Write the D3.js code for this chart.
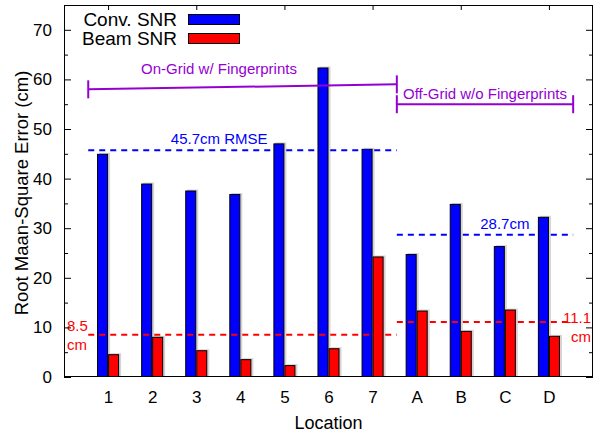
<!DOCTYPE html>
<html>
<head>
<meta charset="utf-8">
<script src="https://cdn.jsdelivr.net/npm/d3@7/dist/d3.min.js"></script>
<style>
  html, body { margin: 0; padding: 0; background: #fff; }
  svg { display: block; font-family: "Liberation Sans", Arial, Helvetica, sans-serif; }
</style>
</head>
<body>
<svg id="chart" width="608" height="435"></svg>
<script>
// Locations along the x axis
const categories = ["1", "2", "3", "4", "5", "6", "7", "A", "B", "C", "D"];
// RMSE per location (cm)
const convSNR = [45.0, 39.0, 37.6, 36.9, 47.1, 62.4, 46.0, 24.8, 34.9, 26.4, 32.3];
const beamSNR = [4.6, 8.1, 5.4, 3.6, 2.4, 5.8, 24.3, 13.4, 9.3, 13.6, 8.3];
const seriesNames = ["Conv. SNR", "Beam SNR"];
const yTicks = [0, 10, 20, 30, 40, 50, 60, 70];

// Average RMSE reference lines: value, x-span in location slots
const rmseValues = [45.7, 8.5, 28.7, 11.1];
const rmseFrom   = [0.55, 0.55, 7.55, 7.55];
const rmseTo     = [7.55, 7.55, 11.55, 11.55];

// Grouping brackets above the bars
const groupLabels = ["On-Grid w/ Fingerprints", "Off-Grid w/o Fingerprints"];
const groupFrom = [0.55, 7.55];
const groupTo   = [7.55, 11.55];
const groupYFrom = [58, 55];
const groupYTo   = [59, 55];

const W = 608, H = 435;
const margin = { left: 64, right: 15, top: 5, bottom: 58 };
const x0 = margin.left, x1 = W - margin.right;
const yTop = margin.top, yBot = H - margin.bottom;

const BLUE = "#0000ff", RED = "#ff0000", PURPLE = "#9400d3";

const svg = d3.select("#chart");

// location slots 0..12, categories sit at 1..11
const x = d3.scaleLinear().domain([0, categories.length + 1]).range([x0, x1]);
const y = d3.scaleLinear().domain([0, 75]).range([yBot, yTop]);
const slot = x(1) - x(0);
const sub = d3.scaleBand().domain(seriesNames)
  .range([-slot / 2, slot / 2]).paddingInner(0).paddingOuter(1);

// Bars (with a faint drop shadow)
const rows = categories.map((c, i) => ({ i: i + 1, vals: [convSNR[i], beamSNR[i]] }));
const colors = [BLUE, RED];
const g = svg.append("g");
rows.forEach(r => {
  r.vals.forEach((v, k) => {
    const bx = x(r.i) + sub(seriesNames[k]);
    const bw = sub.bandwidth();
    g.append("rect")
      .attr("x", bx + 2).attr("y", y(v) - 1)
      .attr("width", bw).attr("height", yBot - y(v) + 1)
      .attr("fill", "#d4d4d4");
  });
});
rows.forEach(r => {
  r.vals.forEach((v, k) => {
    const bx = x(r.i) + sub(seriesNames[k]);
    const bw = sub.bandwidth();
    g.append("rect")
      .attr("x", bx + 0.5).attr("y", y(v) + 0.5)
      .attr("width", bw - 1).attr("height", Math.max(0, yBot - y(v) - 1))
      .attr("fill", colors[k]).attr("stroke", "#000").attr("stroke-width", 1);
  });
});

// RMSE dashed lines
const rmseColors = [BLUE, RED, BLUE, RED];
rmseValues.forEach((v, i) => {
  svg.append("line")
    .attr("x1", x(rmseFrom[i])).attr("x2", x(rmseTo[i]))
    .attr("y1", y(v)).attr("y2", y(v))
    .attr("stroke", rmseColors[i]).attr("stroke-width", 2)
    .attr("stroke-dasharray", "6,5");
});

// RMSE labels
const lab = svg.append("g").attr("font-size", 15);
lab.append("text").attr("x", x(3.52)).attr("y", y(rmseValues[0]) - 6)
  .attr("text-anchor", "middle").attr("fill", BLUE).text(rmseValues[0] + "cm RMSE");
lab.append("text").attr("x", x(10.0)).attr("y", y(rmseValues[2]) - 6)
  .attr("text-anchor", "middle").attr("fill", BLUE).text(rmseValues[2] + "cm");
lab.append("text").attr("x", x0 + 3).attr("y", y(rmseValues[1]) - 4)
  .attr("fill", RED).text(rmseValues[1]);
lab.append("text").attr("x", x0 + 3).attr("y", y(rmseValues[1]) + 15)
  .attr("fill", RED).text("cm");
lab.append("text").attr("x", x1 - 2).attr("y", y(rmseValues[3]) + 1)
  .attr("text-anchor", "end").attr("fill", RED).text(rmseValues[3]);
lab.append("text").attr("x", x1 - 2).attr("y", y(rmseValues[3]) + 20)
  .attr("text-anchor", "end").attr("fill", RED).text("cm");

// Group brackets
const br = svg.append("g").attr("stroke", PURPLE).attr("stroke-width", 2);
groupLabels.forEach((t, i) => {
  const xa = x(groupFrom[i]), xb = x(groupTo[i]);
  const ya = y(groupYFrom[i]), yb = y(groupYTo[i]);
  br.append("line").attr("x1", xa).attr("x2", xb).attr("y1", ya).attr("y2", yb);
  br.append("line").attr("x1", xa).attr("x2", xa).attr("y1", ya - 9).attr("y2", ya + 9);
  br.append("line").attr("x1", xb).attr("x2", xb).attr("y1", yb - 9).attr("y2", yb + 9);
});
svg.append("text").attr("font-size", 15).attr("fill", PURPLE)
  .attr("x", 219).attr("y", y(groupYTo[0]) - 10).attr("text-anchor", "middle")
  .text(groupLabels[0]);
svg.append("text").attr("font-size", 15).attr("fill", PURPLE)
  .attr("x", x(9.55)).attr("y", y(groupYTo[1]) - 5).attr("text-anchor", "middle")
  .text(groupLabels[1]);

// Axes
svg.append("g").attr("transform", `translate(${x0},0)`)
  .call(d3.axisLeft(y).tickValues(yTicks).tickSize(-7).tickPadding(12).tickFormat(d3.format("d")));
svg.append("g").attr("transform", `translate(${x1},0)`)
  .call(d3.axisRight(y).tickValues(yTicks).tickSize(-7).tickFormat(""));
const minor = d3.range(5, 75, 10);
svg.append("g").attr("transform", `translate(${x0},0)`)
  .call(d3.axisLeft(y).tickValues(minor).tickSize(-4).tickFormat(""));
svg.append("g").attr("transform", `translate(${x1},0)`)
  .call(d3.axisRight(y).tickValues(minor).tickSize(-4).tickFormat(""));
svg.append("g").attr("transform", `translate(0,${yBot})`)
  .call(d3.axisBottom(x).tickValues(d3.range(1, categories.length + 1))
    .tickSize(0).tickPadding(14).tickFormat(i => categories[i - 1]));
svg.append("g").attr("transform", `translate(0,${yTop})`)
  .call(d3.axisTop(x).tickValues(d3.range(1, categories.length + 1, 2))
    .tickSize(-5).tickFormat(""));
svg.selectAll(".domain").remove();
svg.selectAll(".tick line").attr("stroke", "#000");
svg.selectAll(".tick text").attr("font-size", 17).attr("fill", "#000")
  .attr("font-family", "'Liberation Sans', Arial, sans-serif");

// Frame
svg.append("rect").attr("x", x0 + 0.5).attr("y", yTop + 0.5)
  .attr("width", x1 - x0 - 1).attr("height", yBot - yTop - 1)
  .attr("fill", "none").attr("stroke", "#000").attr("stroke-width", 1);

// Axis titles
svg.append("text").attr("x", (x0 + x1) / 2).attr("y", 429)
  .attr("text-anchor", "middle").attr("font-size", 18).text("Location");
svg.append("text")
  .attr("transform", `translate(28,${(yTop + yBot) / 2 + 2}) rotate(-90)`)
  .attr("text-anchor", "middle").attr("font-size", 18.5)
  .text("Root Maan-Square Error (cm)");

// Legend
const lg = svg.append("g");
seriesNames.forEach((n, i) => {
  const ly = 19 + i * 19;
  lg.append("text").attr("x", 177).attr("y", ly + 7).attr("text-anchor", "end")
    .attr("font-size", 19).text(n);
  lg.append("rect").attr("x", 188.5).attr("y", ly - 4.5).attr("width", 51).attr("height", 10)
    .attr("fill", colors[i]).attr("stroke", "#000").attr("stroke-width", 1);
});
</script>
</body>
</html>
